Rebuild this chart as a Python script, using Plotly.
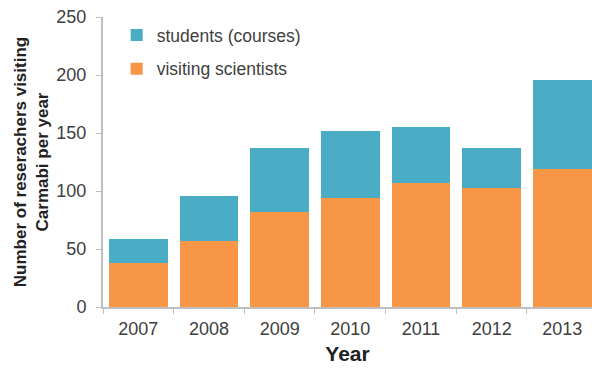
import plotly.graph_objects as go

years = ["2007", "2008", "2009", "2010", "2011", "2012", "2013"]
visiting_scientists = [38, 57, 82, 94, 107, 103, 119]
students_courses = [21, 39, 55, 58, 48, 34, 77]

ORANGE = "#F79646"
BLUE = "#4BACC6"
AXIS_GREY = "#BFBFBF"
FONT = "Liberation Sans, Arial, sans-serif"

fig = go.Figure()
fig.add_trace(go.Bar(x=years, y=visiting_scientists, name="visiting scientists",
                     legendgroup="vs", legendrank=2,
                     marker=dict(color=ORANGE, line=dict(width=0))))
fig.add_trace(go.Bar(x=years, y=students_courses, name="students (courses)",
                     legendgroup="st", legendrank=1,
                     marker=dict(color=BLUE, line=dict(width=0))))

fig.update_layout(
    width=592, height=369,
    margin=dict(l=103, r=0, t=17, b=62),
    barmode="stack",
    bargap=0.17,
    plot_bgcolor="white",
    paper_bgcolor="white",
    font=dict(family=FONT, color="#404040", size=18),
    legend=dict(
        x=0.028, y=1.0, xanchor="left", yanchor="top",
        traceorder="grouped",
        font=dict(size=17.5, color="#404040"),
        bgcolor="rgba(0,0,0,0)",
        itemwidth=30,
        tracegroupgap=8,
    ),
    xaxis=dict(
        type="category",
        range=[-0.5, 6.42],
        showline=True, linecolor=AXIS_GREY, linewidth=2,
        ticks="outside", tickson="boundaries", ticklen=5, tickcolor=AXIS_GREY,
        tickfont=dict(size=18, color="#404040"),
        ticklabelstandoff=4,
        showgrid=False,
        title=dict(text="<b>Year</b>", font=dict(size=21, color="#222222"), standoff=9),
    ),
    yaxis=dict(
        range=[0, 250], tick0=0, dtick=50,
        showline=True, linecolor=AXIS_GREY, linewidth=2,
        ticks="outside", ticklen=5, tickcolor=AXIS_GREY,
        tickfont=dict(size=18, color="#404040"),
        ticklabelstandoff=6,
        showgrid=False, zeroline=False,
        title=dict(text="<b>Number of reserachers visiting<br>Carmabi per year</b>",
                   font=dict(size=17, color="#222222"), standoff=3),
    ),
)

fig.write_html("out.html")
